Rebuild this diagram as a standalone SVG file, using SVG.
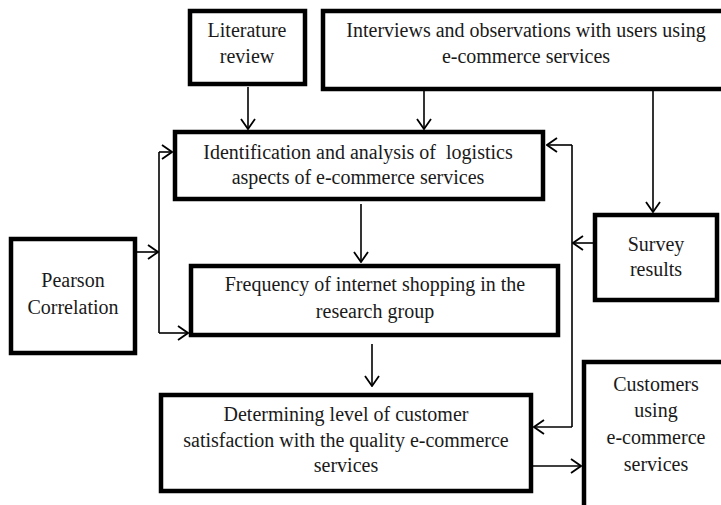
<svg xmlns="http://www.w3.org/2000/svg" width="721" height="505" viewBox="0 0 721 505">
<style>
.box{fill:#fff;stroke:#000;stroke-width:4.5}
.t{font-family:"Liberation Serif","Times New Roman",serif;font-size:20px;fill:#1a1a1a;text-anchor:middle}
.c{fill:none;stroke:#000;stroke-width:1.6}
</style>
<defs>
<marker id="ah" viewBox="0 0 12 16" refX="11" refY="8" markerWidth="12" markerHeight="16" markerUnits="userSpaceOnUse" orient="auto">
<polyline points="1,1 11,8 1,15" fill="none" stroke="#000" stroke-width="1.8"/>
</marker>
</defs>
<rect width="721" height="505" fill="#fff"/>
<g id="connectors">
<line class="c" x1="248" y1="87" x2="248" y2="129" marker-end="url(#ah)"/>
<line class="c" x1="424" y1="91" x2="424" y2="129" marker-end="url(#ah)"/>
<line class="c" x1="653" y1="91" x2="653" y2="212" marker-end="url(#ah)"/>
<line class="c" x1="361" y1="204" x2="361" y2="262" marker-end="url(#ah)"/>
<line class="c" x1="372" y1="344" x2="372" y2="386" marker-end="url(#ah)"/>
<line class="c" x1="137" y1="252" x2="158" y2="252" marker-end="url(#ah)"/>
<polyline class="c" points="159,333 159,152"/>
<line class="c" x1="159" y1="152" x2="172" y2="152" marker-end="url(#ah)"/>
<line class="c" x1="159" y1="333" x2="188" y2="333" marker-end="url(#ah)"/>
<polyline class="c" points="572,145 572,427"/>
<line class="c" x1="572" y1="145" x2="547" y2="145" marker-end="url(#ah)"/>
<line class="c" x1="572" y1="427" x2="534" y2="427" marker-end="url(#ah)"/>
<line class="c" x1="593" y1="243" x2="573" y2="243" marker-end="url(#ah)"/>
<line class="c" x1="533" y1="466" x2="581" y2="466" marker-end="url(#ah)"/>
</g>
<g id="literature">
<rect class="box" x="190" y="11" width="115" height="73"/>
<text class="t" x="247" y="37">Literature</text>
<text class="t" x="247" y="63">review</text>
</g>
<g id="interviews">
<rect class="box" x="323" y="11" width="402" height="78"/>
<text class="t" x="526" y="37">Interviews and observations with users using</text>
<text class="t" x="526" y="63">e-commerce services</text>
</g>
<g id="identification">
<rect class="box" x="175" y="132" width="368" height="67"/>
<text class="t" x="358" y="159" xml:space="preserve">Identification and analysis of  logistics</text>
<text class="t" x="358" y="184">aspects of e-commerce services</text>
</g>
<g id="survey">
<rect class="box" x="595" y="215" width="122" height="85"/>
<text class="t" x="656" y="251">Survey</text>
<text class="t" x="656" y="276">results</text>
</g>
<g id="pearson">
<rect class="box" x="11" y="239" width="124" height="114"/>
<text class="t" x="73" y="287">Pearson</text>
<text class="t" x="73" y="314">Correlation</text>
</g>
<g id="frequency">
<rect class="box" x="191" y="266" width="367" height="69"/>
<text class="t" x="375" y="291">Frequency of internet shopping in the</text>
<text class="t" x="375" y="318">research group</text>
</g>
<g id="determining">
<rect class="box" x="161" y="395" width="370" height="96"/>
<text class="t" x="346" y="421">Determining level of customer</text>
<text class="t" x="346" y="447">satisfaction with the quality e-commerce</text>
<text class="t" x="346" y="472">services</text>
</g>
<g id="customers">
<rect class="box" x="584" y="362" width="145" height="150"/>
<text class="t" x="656" y="391">Customers</text>
<text class="t" x="656" y="417">using</text>
<text class="t" x="656" y="444">e-commerce</text>
<text class="t" x="656" y="471">services</text>
</g>
</svg>
